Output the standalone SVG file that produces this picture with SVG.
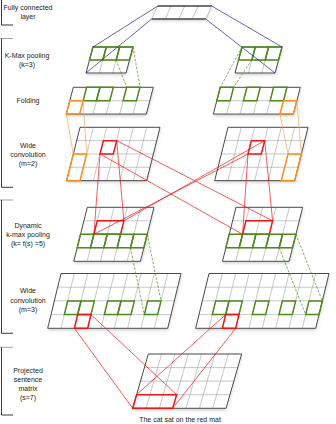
<svg xmlns="http://www.w3.org/2000/svg" width="336" height="424" viewBox="0 0 336 424">
<defs>
<filter id="sh" x="-20%" y="-20%" width="140%" height="160%"><feDropShadow dx="1" dy="2" stdDeviation="1.5" flood-color="#000" flood-opacity="0.18"/></filter>
</defs>
<style>
.bg{fill:#fff;filter:url(#sh)}
.in{fill:none;stroke:#a8a8a8;stroke-width:0.6}
.out{fill:none;stroke:#2a2a2a;stroke-width:0.8}
.gr{fill:none;stroke:#4f8a1c;stroke-width:1.5}
.or{fill:none;stroke:#ff8c1a;stroke-width:1.5}
.rd{fill:none;stroke:#f01414;stroke-width:1.5}
.lbl{font-family:"Liberation Sans",Arial,sans-serif;font-size:7px;fill:#222;text-anchor:middle}
.br{fill:none;stroke:#222;stroke-width:0.9}
.brl{fill:none;stroke:#999;stroke-width:0.9}
.cb{stroke:#23238f;stroke-width:0.7;fill:none}
.cg{stroke:#4f8a1c;stroke-width:0.7;fill:none;stroke-dasharray:2.5 1.5}
.co{stroke:#f7a65a;stroke-width:0.7;fill:none}
.cr{stroke:#f01414;stroke-width:0.7;fill:none}
</style>
<rect width="336" height="424" fill="#fff"/>

<g id="labels">
<path class="br" d="M1.5 0V25H13"/>
<text class="lbl" x="28" y="9.8">Fully connected</text>
<text class="lbl" x="28" y="19.2">layer</text>
<path class="brl" d="M0 38.5H13"/>
<path class="br" d="M1.5 38.5V187.3H13"/>
<text class="lbl" x="27" y="57.5">K-Max pooling</text>
<text class="lbl" x="27" y="67">(k=3)</text>
<text class="lbl" x="28" y="102.5">Folding</text>
<text class="lbl" x="28" y="147.5">Wide</text>
<text class="lbl" x="28" y="156.5">convolution</text>
<text class="lbl" x="28" y="165.8">(m=2)</text>
<path class="brl" d="M0 200H13"/>
<path class="br" d="M1.5 200V333.3H13"/>
<text class="lbl" x="28" y="227.5">Dynamic</text>
<text class="lbl" x="28" y="236.8">k-max pooling</text>
<text class="lbl" x="28" y="245.8">(k= f(s) =5)</text>
<text class="lbl" x="28" y="293">Wide</text>
<text class="lbl" x="28" y="302.5">convolution</text>
<text class="lbl" x="28" y="312">(m=3)</text>
<path class="brl" d="M0 347.3H13"/>
<path class="br" d="M1.5 347.3V415H13"/>
<text class="lbl" x="28" y="372.5">Projected</text>
<text class="lbl" x="28" y="381.5">sentence</text>
<text class="lbl" x="28" y="390.5">matrix</text>
<text class="lbl" x="28" y="399.5">(s=7)</text>
<text class="lbl" x="180" y="421.5">The cat sat on the red mat</text>
</g>

<g id="fc" transform="translate(157.7,6) skewX(-24.7)">
<rect class="bg" width="54" height="13"/>
<path class="in" d="M13.5 0V13M27 0V13M40.5 0V13M0 0V13M54 0V13"/>
<path fill="none" stroke="#444" stroke-width="1.3" d="M0 0H54M0 13H54"/>
</g>

<g id="kmax-left" transform="translate(93,47) skewX(-15)">
<rect class="bg" width="40" height="26"/>
<path class="in" d="M0 13H40M13.33 0V26M26.67 0V26"/>
<rect class="out" width="40" height="26"/>
<rect class="gr" x="0" y="0" width="13.33" height="13"/>
<rect class="gr" x="13.33" y="0" width="13.33" height="13"/>
<rect class="gr" x="26.67" y="0" width="13.33" height="13"/>
</g>
<g id="kmax-right" transform="translate(242,47) skewX(-15)">
<rect class="bg" width="40" height="26"/>
<path class="in" d="M0 13H40M13.33 0V26M26.67 0V26"/>
<rect class="out" width="40" height="26"/>
<rect class="gr" x="0" y="0" width="13.33" height="13"/>
<rect class="gr" x="13.33" y="0" width="13.33" height="13"/>
<rect class="gr" x="26.67" y="0" width="13.33" height="13"/>
</g>

<g id="fold-left" transform="translate(73.3,87.3) skewX(-14.6)">
<rect class="bg" width="80" height="26.8"/>
<path class="in" d="M0 13.4H80M13.33 0V26.8M26.67 0V26.8M40 0V26.8M53.33 0V26.8M66.67 0V26.8"/>
<rect class="out" width="80" height="26.8"/>
<rect class="gr" x="13.33" y="0" width="13.33" height="13.4"/>
<rect class="gr" x="26.67" y="0" width="13.33" height="13.4"/>
<rect class="gr" x="53.33" y="0" width="13.33" height="13.4"/>
<rect class="or" x="0" y="13.4" width="13.33" height="13.4"/>
</g>
<g id="fold-right" transform="translate(220.3,87.3) skewX(-14.6)">
<rect class="bg" width="80" height="26.8"/>
<path class="in" d="M0 13.4H80M13.33 0V26.8M26.67 0V26.8M40 0V26.8M53.33 0V26.8M66.67 0V26.8"/>
<rect class="out" width="80" height="26.8"/>
<rect class="gr" x="0" y="0" width="13.33" height="13.4"/>
<rect class="gr" x="26.67" y="0" width="13.33" height="13.4"/>
<rect class="gr" x="53.33" y="0" width="13.33" height="13.4"/>
<rect class="or" x="66.67" y="13.4" width="13.33" height="13.4"/>
</g>

<g id="wide2-left" transform="translate(80,127.3) skewX(-14.04)">
<rect class="bg" width="80" height="53.33"/>
<path class="in" d="M0 13.33H80M0 26.67H80M0 40H80M13.33 0V53.33M26.67 0V53.33M40 0V53.33M53.33 0V53.33M66.67 0V53.33"/>
<rect class="out" width="80" height="53.33"/>
<rect class="or" x="0" y="26.67" width="13.33" height="26.67"/>
<rect class="rd" x="26.67" y="13.33" width="13.33" height="13.33"/>
</g>
<g id="wide2-right" transform="translate(228,127.3) skewX(-14.04)">
<rect class="bg" width="80" height="53.33"/>
<path class="in" d="M0 13.33H80M0 26.67H80M0 40H80M13.33 0V53.33M26.67 0V53.33M40 0V53.33M53.33 0V53.33M66.67 0V53.33"/>
<rect class="out" width="80" height="53.33"/>
<rect class="or" x="66.67" y="26.67" width="13.33" height="26.67"/>
<rect class="rd" x="26.67" y="13.33" width="13.33" height="13.33"/>
</g>

<g id="dyn-left" transform="translate(87.3,207.3) skewX(-14.04)">
<rect class="bg" width="66.67" height="54"/>
<path class="in" d="M0 13.5H66.67M0 27H66.67M0 40.5H66.67M13.33 0V54M26.67 0V54M40 0V54M53.33 0V54"/>
<rect class="out" width="66.67" height="54"/>
<rect class="rd" x="13.33" y="13.5" width="26.67" height="13.5"/>
<rect class="gr" x="0" y="27" width="13.33" height="13.5"/>
<rect class="gr" x="13.33" y="27" width="13.33" height="13.5"/>
<rect class="gr" x="26.67" y="27" width="13.33" height="13.5"/>
<rect class="gr" x="40" y="27" width="13.33" height="13.5"/>
<rect class="gr" x="53.33" y="27" width="13.33" height="13.5"/>
</g>
<g id="dyn-right" transform="translate(236,207.3) skewX(-14.04)">
<rect class="bg" width="66.67" height="54"/>
<path class="in" d="M0 13.5H66.67M0 27H66.67M0 40.5H66.67M13.33 0V54M26.67 0V54M40 0V54M53.33 0V54"/>
<rect class="out" width="66.67" height="54"/>
<rect class="rd" x="13.33" y="13.5" width="26.67" height="13.5"/>
<rect class="gr" x="0" y="27" width="13.33" height="13.5"/>
<rect class="gr" x="13.33" y="27" width="13.33" height="13.5"/>
<rect class="gr" x="26.67" y="27" width="13.33" height="13.5"/>
<rect class="gr" x="40" y="27" width="13.33" height="13.5"/>
<rect class="gr" x="53.33" y="27" width="13.33" height="13.5"/>
</g>

<g id="wide3-left" transform="translate(61,273.5) skewX(-13.66)">
<rect class="bg" width="120" height="54.8"/>
<path class="in" d="M0 13.7H120M0 27.4H120M0 41.1H120M13.33 0V54.8M26.67 0V54.8M40 0V54.8M53.33 0V54.8M66.67 0V54.8M80 0V54.8M93.33 0V54.8M106.67 0V54.8"/>
<rect class="out" width="120" height="54.8"/>
<rect class="gr" x="13.33" y="27.4" width="13.33" height="13.7"/>
<rect class="gr" x="26.67" y="27.4" width="13.33" height="13.7"/>
<rect class="gr" x="53.33" y="27.4" width="13.33" height="13.7"/>
<rect class="gr" x="66.67" y="27.4" width="13.33" height="13.7"/>
<rect class="gr" x="93.33" y="27.4" width="13.33" height="13.7"/>
<rect class="rd" x="26.67" y="41.1" width="13.33" height="13.7"/>
</g>
<g id="wide3-right" transform="translate(209,273.5) skewX(-13.66)">
<rect class="bg" width="120" height="54.8"/>
<path class="in" d="M0 13.7H120M0 27.4H120M0 41.1H120M13.33 0V54.8M26.67 0V54.8M40 0V54.8M53.33 0V54.8M66.67 0V54.8M80 0V54.8M93.33 0V54.8M106.67 0V54.8"/>
<rect class="out" width="120" height="54.8"/>
<rect class="gr" x="13.33" y="27.4" width="13.33" height="13.7"/>
<rect class="gr" x="26.67" y="27.4" width="13.33" height="13.7"/>
<rect class="gr" x="53.33" y="27.4" width="13.33" height="13.7"/>
<rect class="gr" x="80" y="27.4" width="13.33" height="13.7"/>
<rect class="gr" x="106.67" y="27.4" width="13.33" height="13.7"/>
<rect class="rd" x="26.67" y="41.1" width="13.33" height="13.7"/>
</g>

<g id="projected" transform="translate(148.3,354) skewX(-16)">
<rect class="bg" width="93.33" height="54.3"/>
<path class="in" d="M0 13.58H93.33M0 27.15H93.33M0 40.73H93.33M13.33 0V54.3M26.67 0V54.3M40 0V54.3M53.33 0V54.3M66.67 0V54.3M80 0V54.3"/>
<rect class="out" width="93.33" height="54.3"/>
<rect class="rd" x="0" y="40.73" width="40" height="13.58"/>
</g>

<g id="connectors">
<path class="cb" d="M157.7 6L93 47M151.7 19L86 73M211.7 6L282 47M205.7 19L275 73"/>
<path class="cg" d="M133 47L140 87.3M116.2 60L126.6 87.3M242 47L220.3 87.3M251.8 60L233.6 87.3"/>
<path class="co" d="M66.3 114.1L73.3 154M83.1 100.7L86.7 154M280 114.1L288 154M296.8 100.7L301.3 154"/>
<path class="cr" d="M116.7 140.6L123.9 220.8M100 154L93.9 234.3M116.7 140.6L272.6 220.8M100 154L242.6 234.3M264.7 140.6L272.6 220.8M248 154L242.6 234.3M264.7 140.6L123.9 220.8M248 154L93.9 234.3"/>
<path class="cg" d="M147.2 234.3L161 300.9M130.5 247.8L144.3 314.6M295.9 234.3L322.3 300.9M279.2 247.8L305.7 314.6"/>
<path class="cr" d="M74.4 328.3L132.7 408.3M91 314.6L176.6 394.7M225.7 314.6L136.6 394.7M235.7 328.3L172.7 408.3"/>
</g>
</svg>
